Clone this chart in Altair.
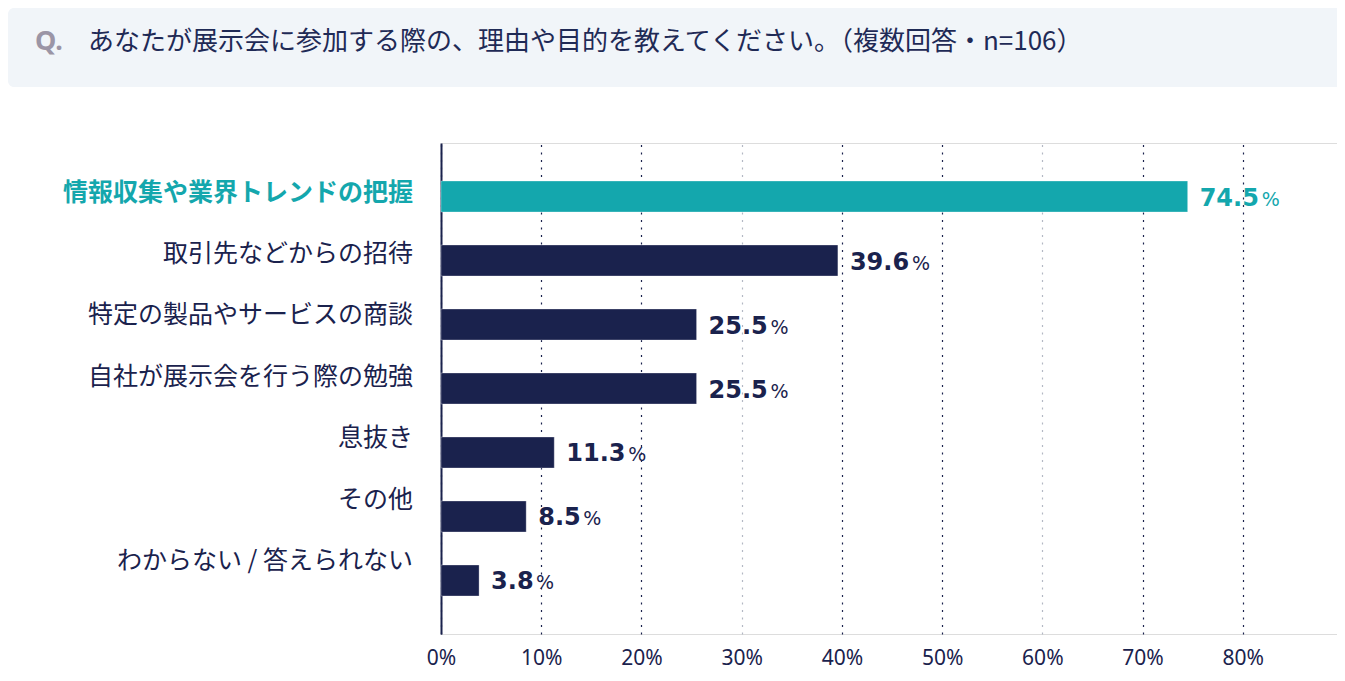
import altair as alt
import pandas as pd

# ---- data ----
categories = [
    "情報収集や業界トレンドの把握",
    "取引先などからの招待",
    "特定の製品やサービスの商談",
    "自社が展示会を行う際の勉強",
    "息抜き",
    "その他",
    "わからない / 答えられない",
]
values = [74.5, 39.6, 25.5, 25.5, 11.3, 8.5, 3.8]
groups = ["highlight", "base", "base", "base", "base", "base", "base"]
x_ticks = [0, 10, 20, 30, 40, 50, 60, 70, 80]
title_q = "Q."
title_text = "あなたが展示会に参加する際の、理由や目的を教えてください。（複数回答・n=106）"

TEAL = "#14a7ad"
NAVY = "#1a224d"
BG = "#f1f5f9"
CJK = "Noto Sans CJK JP"

df = pd.DataFrame({"category": categories, "value": values, "group": groups})
one = pd.DataFrame({"t": [0]})

color_enc = alt.Color(
    "group:N",
    scale=alt.Scale(domain=["highlight", "base"], range=[TEAL, NAVY]),
    legend=None,
)

y_band = alt.Y(
    "category:N",
    sort=categories,
    scale=alt.Scale(domain=categories, paddingInner=0.516, paddingOuter=0.594),
    axis=alt.Axis(
        labels=False, ticks=False, title=None, grid=False,
        domain=True, domainColor=NAVY, domainWidth=2,
    ),
)

x_enc = alt.X(
    "value:Q",
    scale=alt.Scale(domain=[0, 89.4], nice=False, zero=True),
    axis=alt.Axis(
        values=x_ticks,
        labelExpr="datum.value + '%'",
        labelFlush=False,
        grid=True,
        gridDash=[2, 5.5],
        gridWidth=1.2,
        gridColor={
            "condition": {
                "test": "datum.value == 30 || datum.value == 60",
                "value": "#b3b8c4",
            },
            "value": NAVY,
        },
        ticks=False,
        domain=False,
        title=None,
        labelFont="Noto Sans",
        labelFontSize=21,
        labelColor=NAVY,
        labelPadding=13,
    ),
)

base = alt.Chart(df)

bars = base.mark_bar(stroke="#ffffff", strokeOpacity=0.3, strokeWidth=1).encode(
    x=x_enc, y=y_band, color=color_enc
)

y_plain = alt.Y("category:N", sort=categories)

vnum = base.mark_text(
    align="left", baseline="alphabetic", dx=12, dy=9,
    font="DejaVu Sans", fontWeight="bold", fontSize=24,
).encode(
    x="value:Q", y=y_plain,
    text=alt.Text("value:Q", format=".1f"),
    color=color_enc,
)

vpct_big = base.transform_filter("datum.value >= 10").mark_text(
    align="left", baseline="alphabetic", dx=74, dy=9,
    font="DejaVu Sans", fontSize=19,
).encode(x="value:Q", y=y_plain, text=alt.value("%"), color=color_enc)

vpct_small = base.transform_filter("datum.value < 10").mark_text(
    align="left", baseline="alphabetic", dx=57, dy=9,
    font="DejaVu Sans", fontSize=19,
).encode(x="value:Q", y=y_plain, text=alt.value("%"), color=color_enc)

inner = alt.layer(bars, vnum, vpct_big, vpct_small)

y_point = alt.Y(
    "category:N",
    sort=categories,
    scale=alt.Scale(type="point", domain=categories, padding=1.075, align=0.405),
    axis=None,
)

lbl_hi = base.transform_filter("datum.group == 'highlight'").mark_text(
    align="right", baseline="middle", font=CJK, fontSize=25, fontWeight="bold",
).encode(x=alt.value(-28), y=y_point, text="category:N", color=color_enc)

lbl_base = base.transform_filter("datum.group == 'base'").mark_text(
    align="right", baseline="middle", font=CJK, fontSize=25,
).encode(x=alt.value(-28), y=y_point, text="category:N", color=color_enc)

title_box = alt.Chart(one).mark_rect(fill=BG, cornerRadius=6).encode(
    x=alt.value(-433), x2=alt.value(910), y=alt.value(-135), y2=alt.value(-56)
)

title_q_mark = alt.Chart(one).mark_text(
    align="left", baseline="middle", font="Noto Sans", fontWeight="bold",
    fontSize=27, color="#9b95a6",
).encode(x=alt.value(-406), y=alt.value(-101), text=alt.value(title_q))

title_main = alt.Chart(one).mark_text(
    align="left", baseline="middle", font=CJK, fontSize=26, color="#1f2a56",
).encode(x=alt.value(-353), y=alt.value(-101), text=alt.value(title_text))

chart = alt.layer(
    title_box, title_q_mark, title_main, inner, lbl_hi, lbl_base
).resolve_scale(y="independent").properties(
    width=896,
    height=491,
    autosize=alt.AutoSizeParams(type="none"),
    padding={"left": 433, "top": 135, "right": 0, "bottom": 39},
).configure_view(fill=BG, stroke=None).configure(background="white")

chart.save("out.html", embed_options={"renderer": "svg", "actions": False})
